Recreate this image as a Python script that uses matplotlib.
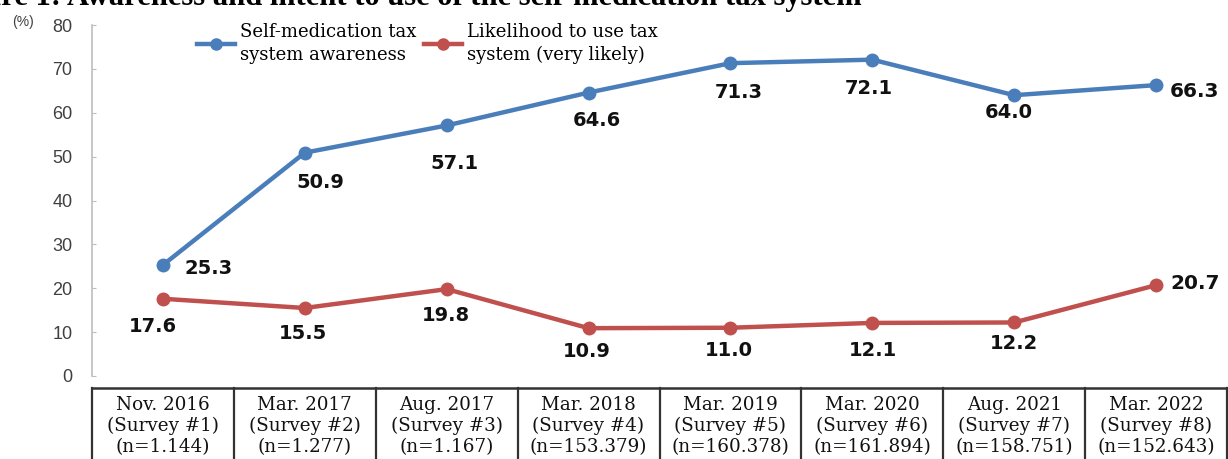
import matplotlib.pyplot as plt
from matplotlib.lines import Line2D

# survey columns
dates = ["Nov. 2016", "Mar. 2017", "Aug. 2017", "Mar. 2018",
         "Mar. 2019", "Mar. 2020", "Aug. 2021", "Mar. 2022"]
surveys = ["(Survey #%d)" % (i + 1) for i in range(8)]
samples = ["(n=1.144)", "(n=1.277)", "(n=1.167)", "(n=153.379)",
           "(n=160.378)", "(n=161.894)", "(n=158.751)", "(n=152.643)"]

awareness = [25.3, 50.9, 57.1, 64.6, 71.3, 72.1, 64.0, 66.3]
likelihood = [17.6, 15.5, 19.8, 10.9, 11.0, 12.1, 12.2, 20.7]

BLUE = "#4a7ebb"
RED = "#c0504d"
W, H = 1228, 459

fig = plt.figure(figsize=(W / 100, H / 100), dpi=100)

# main plot area: x from 92px to 1227px, y=0 at 376px and y=80 at 25px
ax = fig.add_axes([92 / W, (H - 376) / H, 1135 / W, 351 / H])
x = list(range(len(dates)))
ax.plot(x, awareness, color=BLUE, lw=3.2, marker="o", ms=9, solid_capstyle="round")
ax.plot(x, likelihood, color=RED, lw=3.2, marker="o", ms=9, solid_capstyle="round")
ax.set_xlim(-0.5, 7.5)
ax.set_ylim(0, 80)
ax.set_yticks(range(0, 81, 10))
ax.set_xticks([])
for s in ["top", "right", "bottom"]:
    ax.spines[s].set_visible(False)
ax.spines["left"].set_color("#bdbdbd")
ax.spines["left"].set_linewidth(1.2)
ax.tick_params(axis="y", direction="in", length=3, color="#bdbdbd", pad=14,
               labelsize=13, labelcolor="#404040")
for lbl in ax.get_yticklabels():
    lbl.set_family("Liberation Sans")
fig.text(12 / W, 1 - 22 / H, "(%)", fontsize=10, color="#404040",
         family="Liberation Sans", va="center")

# value labels (pixel offsets from each point)
blue_off = [(22, -4, "left"), (16, -30, "center"), (8, -38, "center"),
            (8, -28, "center"), (8, -29, "center"), (-4, -29, "center"),
            (-5, -17, "center"), (14, -6, "left")]
red_off = [(-10, -28, "center"), (-2, -26, "center"), (-1, -26, "center"),
           (-2, -23, "center"), (-2, -23, "center"), (1, -28, "center"),
           (0, -21, "center"), (14, 2, "left")]
for vals, offs in [(awareness, blue_off), (likelihood, red_off)]:
    for i, (v, (dx, dy, ha)) in enumerate(zip(vals, offs)):
        size = 14.5 if i == len(vals) - 1 else 14
        ax.annotate("%.1f" % v, (i, v), xytext=(dx, dy), textcoords="offset pixels",
                    ha=ha, va="center", fontsize=size, fontweight="bold",
                    color="#111111", family="DejaVu Sans")

handles = [Line2D([], [], color=BLUE, lw=3.2, marker="o", ms=8),
           Line2D([], [], color=RED, lw=3.2, marker="o", ms=8)]
leg = ax.legend(handles, ["Self-medication tax\nsystem awareness",
                          "Likelihood to use tax\nsystem (very likely)"],
                ncol=2, frameon=False, loc="upper left",
                bbox_to_anchor=(190 / W, 1 - 16 / H), bbox_transform=fig.transFigure,
                handlelength=2.1, handletextpad=0.25, columnspacing=0.45,
                borderaxespad=0, labelspacing=0,
                prop={"family": "DejaVu Serif", "size": 13})
for t in leg.get_texts():
    t.set_linespacing(1.3)

# sample table under the chart
tab = fig.add_axes([92 / W, (H - 475) / H, 1135 / W, 87 / H])
tab.set_xlim(-0.5, 7.5)
tab.set_ylim(0, 87)
tab.axis("off")
tab.axhline(87, color="#333333", lw=1.8, clip_on=False)
for b in range(9):
    tab.axvline(b - 0.5, color="#333333", lw=1.6, clip_on=False)
for i in x:
    for row, txt in enumerate([dates[i], surveys[i], samples[i]]):
        tab.text(i, 70 - row * 21, txt, ha="center", va="center",
                 fontsize=13.2, family="DejaVu Serif", color="#111111")

# figure title, partly above the visible area
fig.text(-58 / W, 1 - 5 / H,
         "Figure 1: Awareness and intent to use of the self-medication tax system",
         fontsize=22, fontweight="bold", family="Liberation Serif", va="baseline")

fig.savefig("out.png", dpi=100)
